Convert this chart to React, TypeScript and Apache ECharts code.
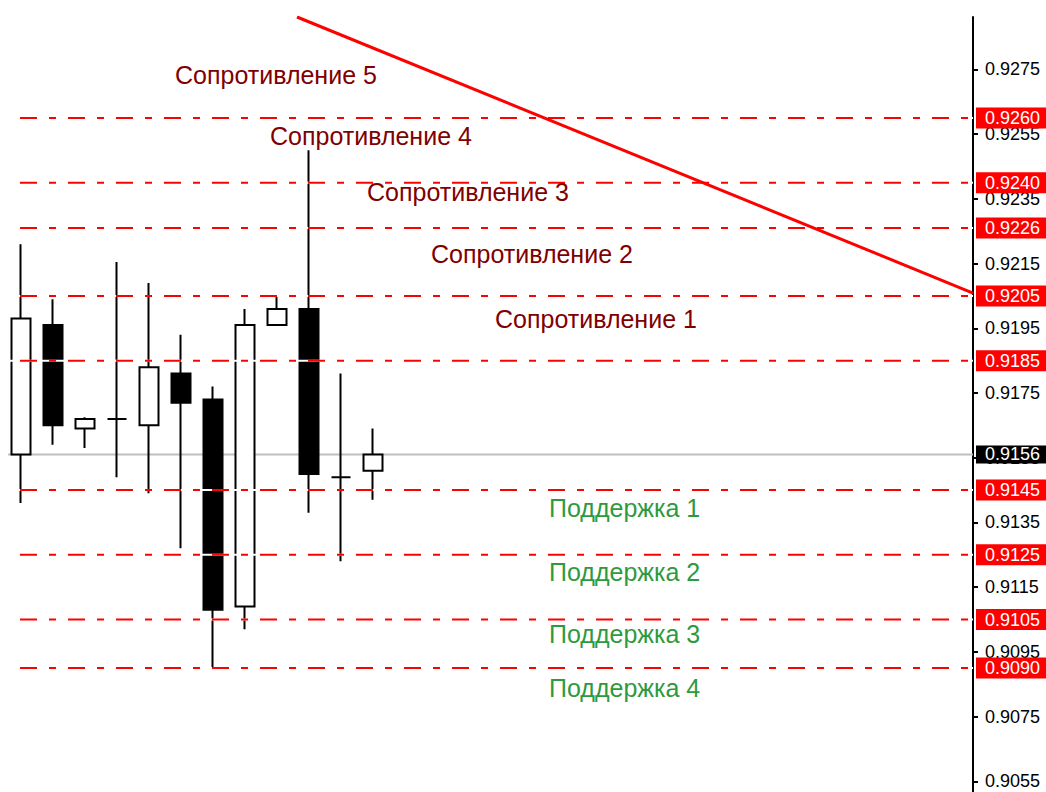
import React, { useEffect, useRef } from "react";
import * as echarts from "echarts";

// Candles (index, OHLC)
const candleIndex = [0, 1, 2, 3, 4, 5, 6, 7, 8, 9, 10, 11];
const opens = [0.9156, 0.9196, 0.9164, 0.9167, 0.9165, 0.9181, 0.9173, 0.9109, 0.9196, 0.9201, 0.9149, 0.9151];
const closes = [0.9198, 0.9165, 0.9167, 0.9167, 0.9183, 0.9172, 0.9108, 0.9196, 0.9201, 0.915, 0.9149, 0.9156];
const lows = [0.9141, 0.9159, 0.9158, 0.9149, 0.9144, 0.9127, 0.909, 0.9102, 0.9196, 0.9138, 0.9123, 0.9142];
const highs = [0.9221, 0.9204, 0.91675, 0.92155, 0.9209, 0.9193, 0.9177, 0.9201, 0.9205, 0.925, 0.9181, 0.9164];

// Horizontal levels
const resistanceLevels = [0.926, 0.924, 0.9226, 0.9205, 0.9185];
const supportLevels = [0.9145, 0.9125, 0.9105, 0.909];
const currentPrice = 0.9156;

// Trend line (two points, x in candle index units)
const trendX = [8.625, 29.75];
const trendY = [0.92912, 0.92059];

// Axis
const yTicks = [0.9055, 0.9075, 0.9095, 0.9115, 0.9135, 0.9155, 0.9175, 0.9195, 0.9215, 0.9235, 0.9255, 0.9275];
const yMin = 0.90517;
const yMax = 0.92912;
const xMin = -0.5;
const xMax = 29.75;
const lineStartX = -0.40625;

// Text annotations
const resistanceNames = ["Сопротивление 5", "Сопротивление 4", "Сопротивление 3", "Сопротивление 2", "Сопротивление 1"];
const supportNames = ["Поддержка 1", "Поддержка 2", "Поддержка 3", "Поддержка 4"];

const FONT = '"Liberation Sans", Arial, sans-serif';

export default function App() {
  const ref = useRef<HTMLDivElement>(null);
  useEffect(() => {
    if (!ref.current) return;
    const chart = echarts.init(ref.current, null, { renderer: "svg" });

    const levelSeries: any[] = [];
    const allLevels = [...resistanceLevels, ...supportLevels];
    allLevels.forEach((lv, i) => {
      const pts = [
        [lineStartX, lv],
        [xMax, lv],
      ];
      levelSeries.push({
        type: "line",
        name: "bg" + i,
        data: pts,
        symbol: "none",
        z: 3,
        silent: true,
        lineStyle: { color: "#ffffff", width: 2, type: "solid" },
      });
      levelSeries.push({
        type: "line",
        name: "lv" + i,
        data: pts,
        symbol: "none",
        z: 4,
        silent: true,
        lineStyle: { color: "#ff0000", width: 2, type: [17, 12, 7, 12], dashOffset: 36 },
        endLabel: {
          show: true,
          formatter: lv.toFixed(4),
          color: "#ffffff",
          backgroundColor: "#ff0000",
          fontFamily: FONT,
          fontSize: 18,
          padding: [2, 7, 1, 9],
          distance: 3,
        },
      });
    });

    const resPos = [
      [175, 75],
      [270, 136],
      [367, 192],
      [431, 254],
      [495, 319],
    ];
    const supPos = [
      [549, 508],
      [549, 572],
      [549, 634],
      [549, 688],
    ];
    const graphics: any[] = [];
    resistanceNames.forEach((t, i) => {
      graphics.push({
        type: "text",
        x: resPos[i][0],
        y: resPos[i][1],
        z: 10,
        style: { text: t, fill: "#800000", font: `25px ${FONT}`, verticalAlign: "middle" },
      });
    });
    supportNames.forEach((t, i) => {
      graphics.push({
        type: "text",
        x: supPos[i][0],
        y: supPos[i][1],
        z: 10,
        style: { text: t, fill: "#2e9a3e", font: `25px ${FONT}`, verticalAlign: "middle" },
      });
    });

    chart.setOption({
      animation: false,
      backgroundColor: "#ffffff",
      grid: { left: 5, top: 17, width: 968, height: 775, containLabel: false },
      xAxis: { type: "value", min: xMin, max: xMax, show: false },
      yAxis: {
        type: "value",
        position: "right",
        min: yMin,
        max: yMax,
        scale: true,
        splitLine: { show: false },
        axisLine: { show: true, onZero: false, lineStyle: { color: "#000", width: 2 } },
        axisTick: { show: true, inside: false, length: 5, lineStyle: { color: "#000", width: 2 }, customValues: yTicks },
        axisLabel: {
          color: "#000",
          fontFamily: FONT,
          fontSize: 18,
          margin: 12,
          customValues: yTicks,
          formatter: (v: number) => v.toFixed(4),
        },
      },
      graphic: graphics,
      series: [
        {
          type: "line",
          name: "price",
          data: [
            [lineStartX, currentPrice],
            [xMax, currentPrice],
          ],
          symbol: "none",
          z: 1,
          silent: true,
          lineStyle: { color: "#c0c0c0", width: 2 },
          endLabel: {
            show: true,
            formatter: currentPrice.toFixed(4),
            color: "#ffffff",
            backgroundColor: "#000000",
            fontFamily: FONT,
            fontSize: 18,
            padding: [0, 6, 0, 9],
            distance: 3,
          },
        },
        {
          type: "candlestick",
          name: "candles",
          z: 2,
          barWidth: 20,
          encode: { x: 0, y: [1, 2, 3, 4] },
          data: candleIndex.map((x, i) => [x, opens[i], closes[i], lows[i], highs[i]]),
          itemStyle: {
            color: "#ffffff",
            color0: "#000000",
            borderColor: "#000000",
            borderColor0: "#000000",
            borderColorDoji: "#000000",
            borderWidth: 2,
          },
        },
        ...levelSeries,
        {
          type: "line",
          name: "trend",
          data: trendX.map((x, i) => [x, trendY[i]]),
          symbol: "none",
          z: 5,
          silent: true,
          lineStyle: { color: "#ff0000", width: 3 },
        },
      ],
    });
    return () => chart.dispose();
  }, []);
  return (
    <div
      ref={ref}
      style={{ position: "fixed", left: 0, top: 0, width: 1046, height: 792, background: "#fff" }}
    />
  );
}
